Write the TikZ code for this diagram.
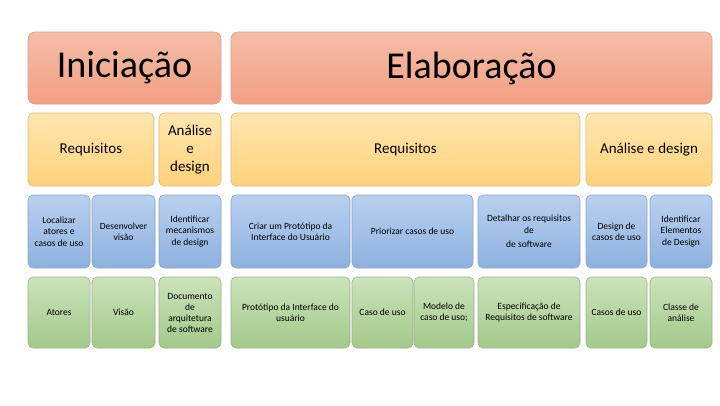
\documentclass[tikz,border=0pt]{standalone}
\usepackage{fontspec}
\setmainfont{Carlito}
\definecolor{salT}{HTML}{F6BDA8}
\definecolor{salB}{HTML}{F19F83}
\definecolor{salD}{HTML}{D9A08C}
\definecolor{yelT}{HTML}{FFE6AE}
\definecolor{yelB}{HTML}{FFD27C}
\definecolor{yelD}{HTML}{D8B880}
\definecolor{bluT}{HTML}{B9D0EF}
\definecolor{bluB}{HTML}{8DB1E0}
\definecolor{bluD}{HTML}{8BA2C0}
\definecolor{grnT}{HTML}{CBE3BA}
\definecolor{grnB}{HTML}{A2C98A}
\definecolor{grnD}{HTML}{99B088}
\tikzset{
  cell/.style={rectangle, rounded corners=5pt, line width=0.6pt, align=center, inner sep=1pt},
  phase/.style={cell, rounded corners=7pt, top color=salT, bottom color=salB, draw=salD, font=\fontsize{38}{44}\selectfont, minimum height=72pt},
  disc/.style={cell, top color=yelT, bottom color=yelB, draw=yelD, font=\fontsize{15}{18}\selectfont, minimum height=73pt},
  act/.style={cell, top color=bluT, bottom color=bluB, draw=bluD, font=\fontsize{9.5}{11.5}\selectfont, minimum height=73pt},
  art/.style={cell, top color=grnT, bottom color=grnB, draw=grnD, font=\fontsize{9.5}{11}\selectfont, minimum height=71pt},
}
\begin{document}
\begin{tikzpicture}[x=1pt,y=-1pt]
\useasboundingbox (0,0) rectangle (720,405);
% row 1
\node[phase, minimum width=193pt] (ini) at (124.5,68) {Iniciação};
\node[phase, minimum width=481pt] (ela) at (471.5,68) {Elaboração};
% row 2
\node[disc, minimum width=126pt] (req1) at (91,149.5) {Requisitos};
\node[disc, minimum width=62pt] (ad1) at (190,149.5) {Análise\\e\\design};
\node[disc, minimum width=349pt] (req2) at (405.5,149.5) {Requisitos};
\node[disc, minimum width=126pt] (ad2) at (649,149.5) {Análise e design};
% row 3
\node[act, minimum width=62pt] (b1) at (59,231.5) {Localizar\\atores e\\casos de uso};
\node[act, minimum width=63pt] (b2) at (123.5,231.5) {Desenvolver\\visão};
\node[act, minimum width=62pt] (b3) at (190,231.5) {Identificar\\mecanismos\\de design};
\node[act, minimum width=119pt] (b4) at (290.5,231.5) {Criar um Protótipo da\\Interface do Usuário};
\node[act, minimum width=121pt] (b5) at (412.5,231.5) {Priorizar casos de uso};
\node[act, minimum width=102pt] (b6) at (529,231.5) {Detalhar os requisitos\\de\\[3pt]de software};
\node[act, minimum width=61pt] (b7) at (616.5,231.5) {Design de\\casos de uso};
\node[act, minimum width=62pt] (b8) at (681,231.5) {Identificar\\Elementos\\de Design};
% row 4
\node[art, minimum width=62pt] (g1) at (59,312.5) {Atores};
\node[art, minimum width=63pt] (g2) at (123.5,312.5) {Visão};
\node[art, minimum width=62pt] (g3) at (190,312.5) {Documento\\de\\arquitetura\\de software};
\node[art, minimum width=119pt] (g4) at (290.5,312.5) {Protótipo da Interface do\\usuário};
\node[art, minimum width=61pt] (g5) at (382.5,312.5) {Caso de uso};
\node[art, minimum width=60pt] (g6) at (444,312.5) {Modelo de\\caso de uso;};
\node[art, minimum width=102pt] (g7) at (529,312.5) {Especificação de\\Requisitos de software};
\node[art, minimum width=61pt] (g8) at (616.5,312.5) {Casos de uso};
\node[art, minimum width=62pt] (g9) at (681,312.5) {Classe de\\análise};
\end{tikzpicture}
\end{document}
